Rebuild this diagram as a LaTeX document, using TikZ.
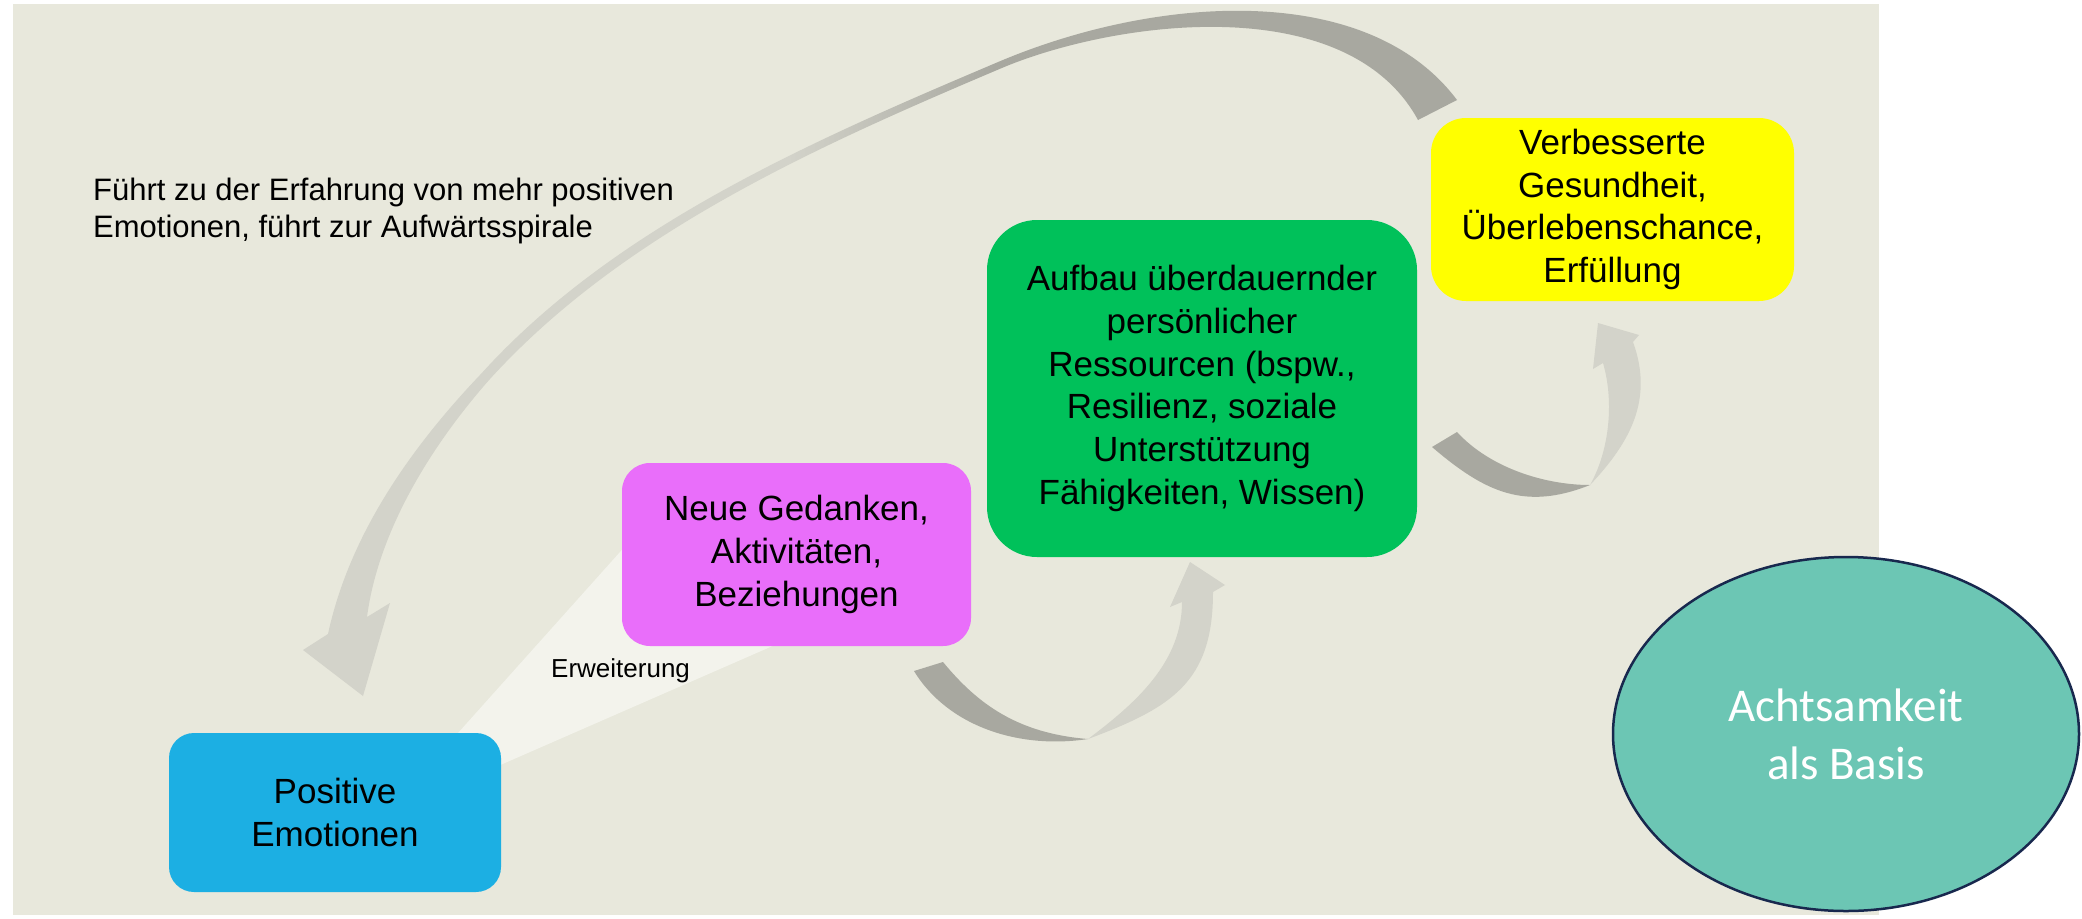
\documentclass[tikz,border=0pt]{standalone}
\usepackage{fontspec}
\setmainfont{Liberation Sans}
\newfontfamily\calibrifont{Carlito}
\usetikzlibrary{shapes.geometric}
\definecolor{bg}{RGB}{232,232,220}
\definecolor{beam}{RGB}{243,243,236}
\definecolor{arrdark}{RGB}{168,168,160}
\definecolor{arrlight}{RGB}{211,211,202}
\definecolor{posblue}{RGB}{28,175,227}
\definecolor{neuemag}{RGB}{233,110,250}
\definecolor{resgreen}{RGB}{0,193,90}
\definecolor{gesyellow}{RGB}{255,255,0}
\definecolor{basisfill}{RGB}{108,198,180}
\definecolor{basisline}{RGB}{24,40,78}
\pgfdeclarehorizontalshading{bigarrowshade}{100bp}{color(0bp)=(arrlight); color(46bp)=(arrlight); color(55bp)=(arrdark); color(100bp)=(arrdark)}
\tikzset{
  box/.style={rectangle, inner sep=0pt, align=center, text=black,
    font=\fontsize{35}{42.7}\selectfont},
  darkpart/.style={fill=arrdark},
  lightpart/.style={fill=arrlight},
}
\begin{document}
\begin{tikzpicture}[x=1pt,y=-1pt]
\useasboundingbox (0,0) rectangle (2082,918);
\fill[white] (0,0) rectangle (2082,918);
\fill[bg] (13,4) rectangle (1879,915);
% widening beam
\fill[beam] (407,790) -- (680,485) -- (800,634) -- (450,787) -- cycle;
% big returning arrow
\shade[shading=bigarrowshade]
  (1457,100) .. controls (1367,-20) and (1155,-4.5) .. (998.6,61.8)
  .. controls (814.6,139.8) and (615.3,225.6) .. (481.3,373.6)
  .. controls (415.8,442.3) and (350.3,530.5) .. (328,634)
  -- (303,650) -- (363,696) -- (390,603) -- (367,617)
  .. controls (377.7,535.5) and (426.2,451.7) .. (488.7,380.4)
  .. controls (622.7,232.4) and (817.4,146.2) .. (1001.4,68.2)
  .. controls (1111.8,21.4) and (1346,-12) .. (1418,120) -- cycle;
% small arrow 1
\path[darkpart] (914,671) .. controls (947.8,726.3) and (1018.7,749.5) .. (1088,739)
  .. controls (1018,733.4) and (977.9,704.4) .. (943,662) -- cycle;
\path[lightpart] (1088,739) .. controls (1172.2,707.5) and (1213,682) .. (1213,592)
  -- (1225,585) -- (1190,562) -- (1170,607) -- (1182,602)
  .. controls (1182,662) and (1136,703) .. (1088,739) -- cycle;
% small arrow 2
\path[darkpart] (1432,447) .. controls (1485.2,492.5) and (1524.9,510.9) .. (1590,485)
  .. controls (1545,485) and (1490,468) .. (1457,432) -- cycle;
\path[lightpart] (1590,485) .. controls (1631.4,441.2) and (1653.4,398.4) .. (1633,342)
  -- (1639,335) -- (1598,323) -- (1593,369) -- (1603,363)
  .. controls (1614.2,401.4) and (1609.6,450.2) .. (1590,485) -- cycle;
% boxes
\node[box, fill=posblue, rounded corners=25pt, minimum width=332pt, minimum height=159pt] (pos) at (335,812.5) {Positive\\Emotionen};
\node[box, fill=neuemag, rounded corners=28pt, minimum width=349pt, minimum height=183pt] (neue) at (796.5,554.5) {Neue Gedanken,\\Aktivitäten,\\Beziehungen};
\node[box, fill=resgreen, rounded corners=50pt, minimum width=430pt, minimum height=337pt] (res) at (1202,388.5) {Aufbau überdauernder\\persönlicher\\Ressourcen (bspw.,\\Resilienz, soziale\\Unterstützung\\Fähigkeiten, Wissen)};
\node[box, fill=gesyellow, rounded corners=35pt, minimum width=363pt, minimum height=183pt] (ges) at (1612.5,209.5) {Verbesserte\\Gesundheit,\\Überlebenschance,\\Erfüllung};
% labels
\node[anchor=north west, align=left, inner sep=0pt, font=\fontsize{31}{37}\selectfont] (lbl) at (93,178) {Führt zu der Erfahrung von mehr positiven\\Emotionen, führt zur Aufwärtsspirale};
\node[anchor=base west, inner sep=0pt, font=\fontsize{26}{31}\selectfont] (erw) at (551,677) {Erweiterung};
% ellipse
\node[ellipse, draw=basisline, line width=2.5pt, fill=basisfill, minimum width=466pt, minimum height=354pt, inner sep=0pt, align=center, text=white, font=\calibrifont\fontsize{47}{58}\selectfont] (basis) at (1846,734) {Achtsamkeit\\als Basis};
\end{tikzpicture}
\end{document}
